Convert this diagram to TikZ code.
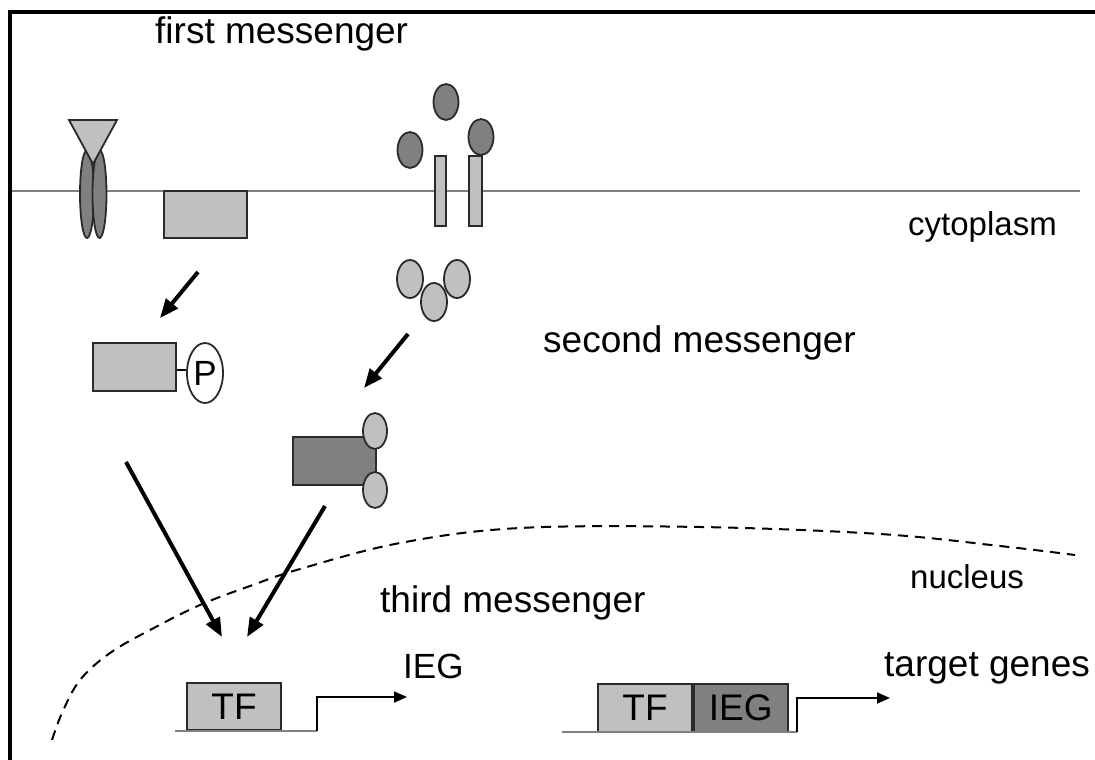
\documentclass[tikz,border=0pt]{standalone}
\usepackage{fontspec}
\setmainfont{Liberation Sans}
\usetikzlibrary{arrows.meta, positioning, shapes.geometric}
\definecolor{LightGrey}{HTML}{C0C0C0}
\definecolor{DarkGrey}{HTML}{808080}
\definecolor{EdgeGrey}{HTML}{2A2A2A}

\begin{document}
\begin{tikzpicture}[
    x=1pt, y=-1pt,
    biglabel/.style = {font=\fontsize{37}{44}\selectfont, inner sep=0pt, anchor=base west},
    smalllabel/.style = {font=\fontsize{33}{40}\selectfont, inner sep=0pt, anchor=base west},
    block/.style = {rectangle, draw=EdgeGrey, line width=1.8pt, fill=LightGrey, inner sep=0pt, font=\fontsize{37}{44}\selectfont},
    blob/.style = {ellipse, draw=EdgeGrey, line width=1.8pt, inner sep=0pt},
    ligand/.style = {blob, fill=DarkGrey, minimum width=25pt, minimum height=36pt},
    second/.style = {blob, fill=LightGrey, minimum width=26pt, minimum height=38pt},
    signal/.style = {-{Triangle[length=19pt, width=15pt]}, line width=4pt},
    promoter/.style = {-{Triangle[length=13pt, width=11pt]}, line width=1.8pt, draw=black}
]
    \useasboundingbox (0,0) rectangle (1095,760);

    % frame and membrane
    \draw [line width=3.5pt] (10,760) -- (10,12) -- (1095,12);
    \coordinate (memL) at (12,191);
    \coordinate (memR) at (1080,191);
    \draw [DarkGrey, line width=2pt] (memL) -- (memR);

    % receptor with ligand
    \node [blob, fill=DarkGrey, minimum width=14pt, minimum height=88pt] (recL) at (87,194) {};
    \node [blob, fill=DarkGrey, minimum width=14pt, minimum height=88pt] (recR) at (99.5,194) {};
    \draw [fill=LightGrey, draw=EdgeGrey, line width=1.8pt] (69,120) -- (117,120) -- (93,164) -- cycle;
    \node [block, minimum width=83pt, minimum height=47pt] (kinase) at (205.5,214.5) {};

    % channel and first messengers
    \node [block, minimum width=11pt, minimum height=70pt] (chanL) at (440.5,191) {};
    \node [block, minimum width=13pt, minimum height=70pt] (chanR) at (475.5,191) {};
    \node [ligand] (lig1) at (410,150) {};
    \node [ligand] (lig2) at (446,102) {};
    \node [ligand] (lig3) at (481,137) {};

    % second messengers
    \node [second] (sec1) at (410,279) {};
    \node [second] (sec2) at (434,302) {};
    \node [second] (sec3) at (457,279) {};

    % phosphorylated protein
    \node [block, minimum width=83pt, minimum height=48pt] (phosbox) at (134.5,367) {};
    \node [blob, fill=white, minimum width=36pt, minimum height=60pt, font=\fontsize{35}{42}\selectfont] (phos) at (205,373) {P};
    \draw [line width=2.5pt] (phosbox.east) ++(0,3) -- (phos.west |- 0,370);

    % complex with second messengers
    \node [block, fill=DarkGrey, minimum width=83pt, minimum height=48pt] (cplx) at (334.5,461) {};
    \node [second, minimum width=24pt, minimum height=36pt] (cplxT) at (375,431) {};
    \node [second, minimum width=24pt, minimum height=36pt] (cplxB) at (375,490) {};

    % signalling arrows
    \coordinate (a1s) at (198,272);
    \coordinate (a1e) at (160,318);
    \coordinate (a2s) at (408,334);
    \coordinate (a2e) at (364,388);
    \coordinate (a3s) at (126,462);
    \coordinate (a3e) at (222,637);
    \coordinate (a4s) at (325,506);
    \coordinate (a4e) at (247,637);
    \draw [signal] (a1s) -- (a1e);
    \draw [signal] (a2s) -- (a2e);
    \draw [signal] (a3s) -- (a3e);
    \draw [signal] (a4s) -- (a4e);

    % nuclear envelope
    \draw [dash pattern=on 10pt off 7pt, line width=2pt] plot [smooth, tension=0.6] coordinates
        {(52,740) (62,713) (80,680) (110,653) (150,630) (200,605) (250,586) (300,569) (400,543) (520,528) (700,527) (880,534) (1000,546) (1075,555)};

    % genes
    \node [block, minimum width=94pt, minimum height=47pt] (tf1) at (234,706.5) {TF};
    \coordinate (dna1) at (175,731);
    \coordinate (tss1) at (317,731);
    \coordinate (ieg1) at (407,697);
    \draw [DarkGrey, line width=2pt] (dna1) -- (tss1);
    \draw [promoter] (tss1) |- (ieg1);

    \node [block, minimum width=94pt, minimum height=48pt] (tf2) at (645,708) {TF};
    \node [block, fill=DarkGrey, minimum width=94pt, minimum height=48pt, right=0pt of tf2] (ieg2) {IEG};
    \coordinate (dna2) at (562,732);
    \coordinate (tss2) at (797,732);
    \coordinate (tgt2) at (890,698);
    \draw [DarkGrey, line width=2pt] (dna2) -- (tss2);
    \draw [promoter] (tss2) |- (tgt2);

    % labels
    \node [biglabel] (first) at (155,44) {first messenger};
    \node [smalllabel] (cyto) at (908,235) {cytoplasm};
    \node [biglabel] (secondlbl) at (543,352) {second messenger};
    \node [smalllabel] (nuc) at (910,588) {nucleus};
    \node [biglabel] (third) at (380,612) {third messenger};
    \node [biglabel, font=\fontsize{35}{42}\selectfont] (ieglbl) at (403,678) {IEG};
    \node [biglabel] (targets) at (884,676) {target genes};
\end{tikzpicture}
\end{document}
